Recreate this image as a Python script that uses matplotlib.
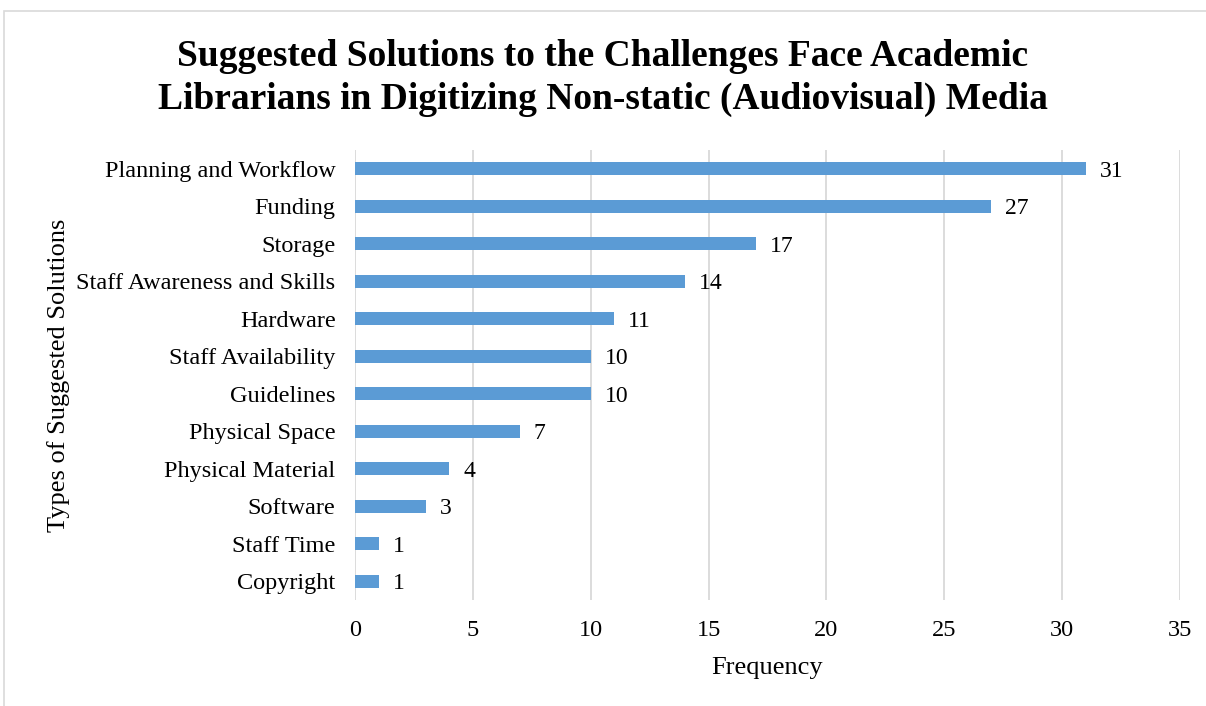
import matplotlib.pyplot as plt
from matplotlib.patches import Rectangle

categories = ["Copyright", "Staff Time", "Software", "Physical Material",
              "Physical Space", "Guidelines", "Staff Availability", "Hardware",
              "Staff Awareness and Skills", "Storage", "Funding",
              "Planning and Workflow"]
frequency = [1, 1, 3, 4, 7, 10, 10, 11, 14, 17, 27, 31]
x_ticks = [0, 5, 10, 15, 20, 25, 30, 35]

TITLE = "Suggested Solutions to the Challenges Face Academic\nLibrarians in Digitizing Non-static (Audiovisual) Media"

plt.rcParams['font.family'] = ['Liberation Serif', 'DejaVu Serif']

fig = plt.figure(figsize=(12.06, 7.06), dpi=100)
ax = fig.add_axes([0.2944, 0.150, 0.6840, 0.6375])

ypos = range(len(categories))
ax.barh(ypos, frequency, height=0.35, color="#5B9BD5", zorder=3)
for y, v in zip(ypos, frequency):
    ax.annotate(str(v), (v, y), xytext=(10, 0), textcoords="offset points",
                va="center_baseline", ha="left", fontsize=17)

ax.set_xlim(0, 35)
ax.set_ylim(-0.5, len(categories) - 0.5)
ax.set_xticks(x_ticks)
ax.set_yticks(list(ypos), categories)
ax.tick_params(axis="both", length=0, labelsize=17.5)
ax.tick_params(axis="x", pad=14)
ax.tick_params(axis="y", pad=14)
ax.grid(axis="x", color="#d9d9d9", linewidth=1.3, zorder=0)
for s in ax.spines.values():
    s.set_visible(False)

ax.set_xlabel("Frequency", fontsize=19, labelpad=12)
ax.set_ylabel("Types of Suggested Solutions", fontsize=19)
ax.yaxis.set_label_coords((70 - 355) / 825, 0.5)
fig.text(0.5, 1 - 78 / 706, TITLE, ha="center", va="center", fontsize=27,
         fontweight="bold", linespacing=1.3)

# light frame around the chart area
fig.patches.append(Rectangle((4 / 1206, -0.01), 1.1, 1 - 11 / 706 + 0.01,
                             transform=fig.transFigure, fill=False,
                             edgecolor="#d9d9d9", linewidth=1.2))

fig.savefig("out.png", dpi=100)
